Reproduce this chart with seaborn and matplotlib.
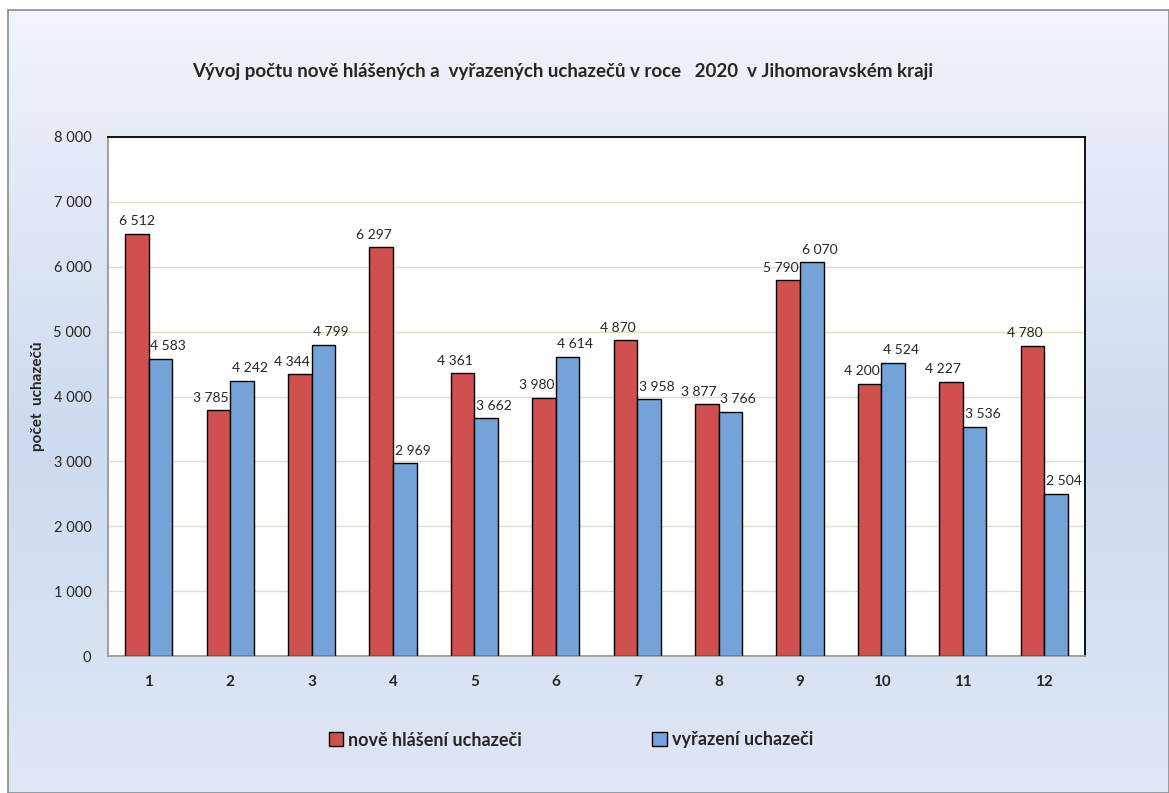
import numpy as np
import pandas as pd
import matplotlib
matplotlib.use('Agg')
import matplotlib.pyplot as plt
from matplotlib.colors import LinearSegmentedColormap
from matplotlib.patches import Patch
import seaborn as sns

months = ['1', '2', '3', '4', '5', '6', '7', '8', '9', '10', '11', '12']
new_registered = [6512, 3785, 4344, 6297, 4361, 3980, 4870, 3877, 5790, 4200, 4227, 4780]
removed = [4583, 4242, 4799, 2969, 3662, 4614, 3958, 3766, 6070, 4524, 3536, 2504]
series_names = ['nově hlášení uchazeči', 'vyřazení uchazeči']
colors = ['#d05050', '#73a3d9']
yticks = [0, 1000, 2000, 3000, 4000, 5000, 6000, 7000, 8000]


def fmt(v):
    return '{:,}'.format(v).replace(',', ' ')


def main():
    sns.set_style('white')
    plt.rcParams['font.family'] = ['Lato', 'DejaVu Sans']

    df = pd.DataFrame({
        'month': months * 2,
        'value': new_registered + removed,
        'series': [series_names[0]] * 12 + [series_names[1]] * 12,
    })

    fig = plt.figure(figsize=(11.69, 7.93), dpi=100)

    # background gradient of the chart area
    bg = fig.add_axes([8 / 1169, 0, 1 - 8 / 1169, 1 - 10 / 793], zorder=-10)
    cmap = LinearSegmentedColormap.from_list(
        'bg', [(0, '#f1f4fa'), (0.55, '#cedaef'), (1, '#e0e7f5')])
    grad = np.linspace(0, 1, 256).reshape(-1, 1)
    bg.imshow(grad, aspect='auto', cmap=cmap, extent=[0, 1, 0, 1], origin='upper')
    bg.set_xlim(0, 1)
    bg.set_ylim(0, 1)
    bg.set_xticks([])
    bg.set_yticks([])
    for s in bg.spines.values():
        s.set_color('#8c8c8c')
        s.set_linewidth(1.2)

    ax = fig.add_axes([108 / 1169, 1 - 656 / 793, (1085 - 108) / 1169, (656 - 137) / 793])
    ax.set_facecolor('white')
    sns.barplot(data=df, x='month', y='value', hue='series', palette=colors,
                width=0.58, gap=0, saturation=1, edgecolor='black', linewidth=1,
                ax=ax, legend=False, zorder=3)

    ax.set_ylim(0, 8000)
    ax.set_xlim(-0.5, 11.5)
    ax.set_yticks(yticks)
    ax.set_yticklabels([fmt(t) for t in yticks], fontsize=10.5)
    ax.yaxis.grid(True, color='#e2ddcc', linewidth=1, zorder=0)
    ax.set_axisbelow(True)
    ax.tick_params(axis='y', direction='out', length=6, width=1, color='#999999', pad=6)
    ax.set_xticks(range(12))
    ax.set_xticklabels(months, fontsize=11, fontweight='bold')
    ax.set_xticks(np.arange(-0.5, 12, 1), minor=True)
    ax.tick_params(axis='x', which='major', length=0, pad=14)
    ax.tick_params(axis='x', which='minor', direction='out', length=6, width=1, color='#999999')
    ax.set_xlabel('')
    ax.set_ylabel('počet  uchazečů', fontsize=11, fontweight='bold', labelpad=6)

    for side in ['top', 'right']:
        ax.spines[side].set_color('black')
        ax.spines[side].set_linewidth(1.3)
    for side in ['left', 'bottom']:
        ax.spines[side].set_color('#999999')
        ax.spines[side].set_linewidth(1.3)

    # value labels: red to the left, blue to the right
    red_bars, blue_bars = ax.containers[0], ax.containers[1]
    for i, p in enumerate(red_bars):
        h = p.get_height()
        if i == 0:
            ax.text(p.get_x() + p.get_width() / 2, h + 100, fmt(int(h)),
                    ha='center', va='bottom', fontsize=10)
        else:
            ax.text(p.get_x() + p.get_width() - 0.02, h + 100, fmt(int(h)),
                    ha='right', va='bottom', fontsize=10)
    for p in blue_bars:
        h = p.get_height()
        ax.text(p.get_x() + 0.02, h + 100, fmt(int(h)),
                ha='left', va='bottom', fontsize=10)

    fig.text(563 / 1169, 1 - 72 / 793,
             'Vývoj počtu nově hlášených a  vyřazených uchazečů v roce   2020  v Jihomoravském kraji',
             ha='center', va='center', fontsize=13.5, fontweight='bold')

    handles = [Patch(facecolor=c, edgecolor='black', linewidth=1) for c in colors]
    fig.legend(handles, series_names, loc='center', frameon=False, ncol=2,
               bbox_to_anchor=(571 / 1169, 1 - 740 / 793),
               handlelength=0.8, handleheight=0.8, handletextpad=0.3,
               columnspacing=7.2, prop={'size': 13, 'weight': 'bold'})

    fig.savefig('out.png', dpi=100)


if __name__ == "__main__":
    main()
